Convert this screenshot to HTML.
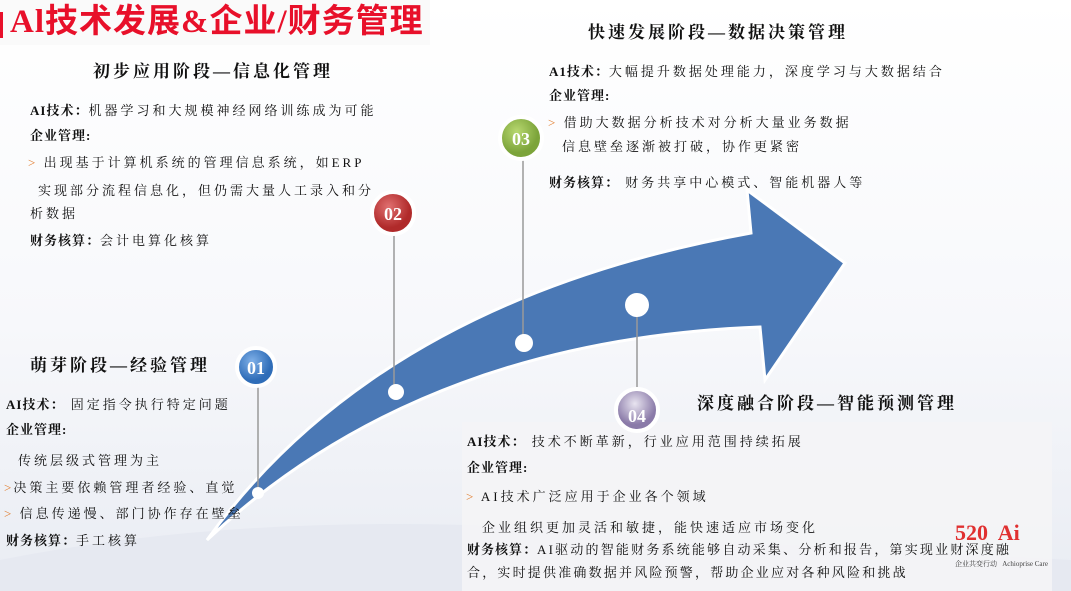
<!DOCTYPE html>
<html><head><meta charset="utf-8"><style>
body{margin:0;width:1071px;height:591px;overflow:hidden;background:linear-gradient(180deg,#fff 0%,#f7f8fb 55%,#e9ecf3 100%);position:relative;font-family:"Liberation Serif","Noto Serif CJK SC",serif;color:#111}
.t{position:absolute;white-space:nowrap;font-size:13px;letter-spacing:3px;line-height:20px}
.h{position:absolute;white-space:nowrap;font-size:17px;font-weight:bold;letter-spacing:3px;line-height:22px}
b{font-weight:bold;letter-spacing:1px}
.g{color:#e07a2a;letter-spacing:2px}
</style></head><body>
<svg width="1071" height="591" style="position:absolute;left:0;top:0">
<defs>
<radialGradient id="bl" cx="40%" cy="35%"><stop offset="0" stop-color="#7fb0e8"/><stop offset="1" stop-color="#2f6db8"/></radialGradient>
<radialGradient id="rd" cx="40%" cy="35%"><stop offset="0" stop-color="#e07070"/><stop offset="1" stop-color="#b02a2a"/></radialGradient>
<radialGradient id="gr" cx="40%" cy="35%"><stop offset="0" stop-color="#b8d870"/><stop offset="1" stop-color="#7ca43a"/></radialGradient>
<radialGradient id="pu" cx="45%" cy="35%"><stop offset="0" stop-color="#e8e4f0"/><stop offset="1" stop-color="#8a7aa8"/></radialGradient>
</defs>
<path d="M0,560 Q300,500 700,540 L1071,560 L1071,591 L0,591Z" fill="#e6e9f1"/>
<rect x="462" y="422" width="590" height="169" fill="#f4f4f6" opacity="0.9"/>
<path d="M207,540 Q380,300 751,233 L747,190 L845,263 L765,380 L760,327 Q420,340 207,540 Z" fill="#4a78b5" stroke="#fff" stroke-width="3"/>
<g stroke="#999" stroke-width="1.5">
<line x1="258" y1="367" x2="258" y2="493"/><line x1="394" y1="213" x2="394" y2="392"/>
<line x1="523" y1="138" x2="523" y2="343"/><line x1="637" y1="305" x2="637" y2="410"/></g>
<g fill="#fff"><circle cx="258" cy="493" r="6"/><circle cx="396" cy="392" r="8"/><circle cx="524" cy="343" r="9"/><circle cx="637" cy="305" r="12"/></g>
<g stroke="#fff" stroke-width="4">
<circle cx="256" cy="367" r="19" fill="url(#bl)"/><circle cx="393" cy="213" r="21" fill="url(#rd)"/>
<circle cx="521" cy="138" r="21" fill="url(#gr)"/><circle cx="637" cy="410" r="21" fill="url(#pu)"/></g>
<g fill="#fff" font-family="Liberation Serif" font-weight="bold" font-size="18" text-anchor="middle">
<text x="256" y="374">01</text><text x="393" y="220">02</text><text x="521" y="145">03</text><text x="637" y="422">04</text></g>
</svg>
<div style="position:absolute;left:0;top:0;width:430px;height:45px;background:#fafafa"></div>
<div style="position:absolute;left:0;top:12px;width:3px;height:26px;background:#e8102a"></div>
<div style="position:absolute;left:10px;top:1px;font-size:33px;line-height:42px;color:#e8102a;font-family:'Liberation Serif','Noto Sans CJK SC',sans-serif;white-space:nowrap;font-weight:bold;letter-spacing:1px">Al技术发展&amp;企业/财务管理</div>

<div class="h" style="left:93px;top:61px">初步应用阶段—信息化管理</div>
<div class="t" style="left:30px;top:101px"><b>AI技术：</b>机器学习和大规模神经网络训练成为可能</div>
<div class="t" style="left:30px;top:126px"><b>企业管理:</b></div>
<div class="t" style="left:28px;top:153px"><span class="g">&gt;</span> 出现基于计算机系统的管理信息系统，如ERP</div>
<div class="t" style="left:38px;top:181px">实现部分流程信息化，但仍需大量人工录入和分</div>
<div class="t" style="left:30px;top:204px">析数据</div>
<div class="t" style="left:30px;top:231px"><b>财务核算：</b>会计电算化核算</div>

<div class="h" style="left:30px;top:355px">萌芽阶段—经验管理</div>
<div class="t" style="left:6px;top:395px"><b>AI技术：</b> 固定指令执行特定问题</div>
<div class="t" style="left:6px;top:420px"><b>企业管理:</b></div>
<div class="t" style="left:18px;top:451px">传统层级式管理为主</div>
<div class="t" style="left:4px;top:478px"><span class="g">&gt;</span>决策主要依赖管理者经验、直觉</div>
<div class="t" style="left:4px;top:504px"><span class="g">&gt;</span> 信息传递慢、部门协作存在壁垒</div>
<div class="t" style="left:6px;top:531px"><b>财务核算：</b>手工核算</div>

<div class="h" style="left:588px;top:22px">快速发展阶段—数据决策管理</div>
<div class="t" style="left:549px;top:62px"><b>A1技术：</b>大幅提升数据处理能力，深度学习与大数据结合</div>
<div class="t" style="left:549px;top:86px"><b>企业管理:</b></div>
<div class="t" style="left:548px;top:113px"><span class="g">&gt;</span> 借助大数据分析技术对分析大量业务数据</div>
<div class="t" style="left:562px;top:137px">信息壁垒逐渐被打破，协作更紧密</div>
<div class="t" style="left:549px;top:173px"><b>财务核算：</b> 财务共享中心模式、智能机器人等</div>

<div class="h" style="left:697px;top:393px">深度融合阶段—智能预测管理</div>
<div class="t" style="left:467px;top:432px"><b>AI技术：</b> 技术不断革新，行业应用范围持续拓展</div>
<div class="t" style="left:467px;top:458px"><b>企业管理:</b></div>
<div class="t" style="left:466px;top:487px"><span class="g">&gt;</span> AI技术广泛应用于企业各个领域</div>
<div class="t" style="left:482px;top:518px">企业组织更加灵活和敏捷，能快速适应市场变化</div>
<div class="t" style="left:467px;top:540px;letter-spacing:2.2px"><b>财务核算：</b>AI驱动的智能财务系统能够自动采集、分析和报告，第实现业财深度融</div>
<div class="t" style="left:467px;top:563px;letter-spacing:2.2px">合，实时提供准确数据并风险预警，帮助企业应对各种风险和挑战</div>
<div style="position:absolute;left:955px;top:520px;font-size:22px;font-weight:bold;color:#e03030;white-space:nowrap;line-height:26px">520&nbsp; Ai</div>
<div style="position:absolute;left:955px;top:559px;font-size:7px;color:#444;white-space:nowrap">企业共变行动 &nbsp; Achioprise Care</div>
</body></html>
